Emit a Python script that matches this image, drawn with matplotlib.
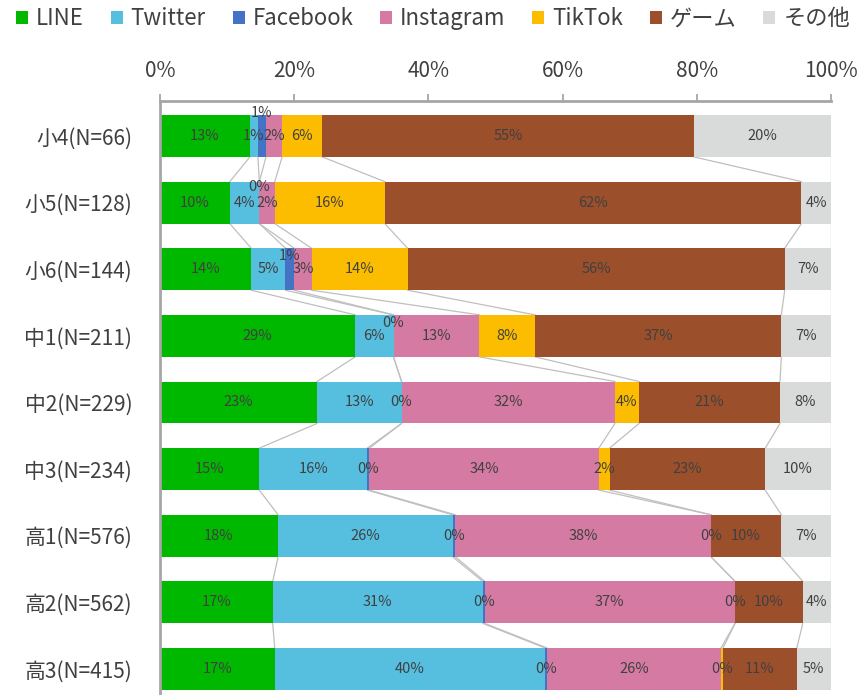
import matplotlib
matplotlib.use("Agg")
import matplotlib.pyplot as plt
from matplotlib.patches import Patch

plt.rcParams['font.family'] = ['Noto Sans CJK JP', 'DejaVu Sans']

# data (share of each answer per grade, %)
grades = ["小4(N=66)", "小5(N=128)", "小6(N=144)", "中1(N=211)", "中2(N=229)",
          "中3(N=234)", "高1(N=576)", "高2(N=562)", "高3(N=415)"]
series_names = ["LINE", "Twitter", "Facebook", "Instagram", "TikTok", "ゲーム", "その他"]

line_vals = [13.4, 10.4, 13.6, 29.1, 23.4, 14.8, 17.6, 16.8, 17.1]
twitter_vals = [1.2, 4.4, 5.1, 5.7, 12.6, 16.1, 26.0, 31.3, 40.3]
facebook_vals = [1.2, 0.0, 1.3, 0.0, 0.0, 0.3, 0.4, 0.3, 0.3]
instagram_vals = [2.4, 2.3, 2.6, 12.8, 31.8, 34.2, 38.1, 37.3, 25.9]
tiktok_vals = [6.0, 16.4, 14.3, 8.3, 3.6, 1.6, 0.0, 0.0, 0.3]
game_vals = [55.4, 62.1, 56.2, 36.7, 21.0, 23.2, 10.5, 10.1, 11.0]
other_vals = [20.4, 4.4, 6.9, 7.4, 7.6, 9.8, 7.4, 4.2, 5.1]

colors = ["#00B800", "#56BEDE", "#4472C4", "#D57BA3", "#FCBC00", "#9C4F2B", "#D9DADA"]

all_vals = [line_vals, twitter_vals, facebook_vals, instagram_vals,
            tiktok_vals, game_vals, other_vals]

fig = plt.figure(figsize=(8.61, 6.95), dpi=100)
ax = fig.add_axes([160 / 861, 0, 671 / 861, 1 - 101 / 695])

bar_h = 0.63
ypos = list(range(len(grades)))
text_col = "#404040"

# labels that Excel nudged upward to avoid overlap: (series, row) -> dy
label_shift = {(2, 0): -0.34, (2, 1): -0.24, (2, 2): -0.2, (2, 3): -0.2}

left = [0.0] * len(grades)
ends = []
for s, vals in enumerate(all_vals):
    ax.barh(ypos, vals, left=left, height=bar_h, color=colors[s], zorder=2)
    for i, v in enumerate(vals):
        cx = left[i] + v / 2
        dy = label_shift.get((s, i), 0)
        ax.text(cx, i + dy, f"{v:.0f}%", ha="center", va="center",
                fontsize=10.5, color=text_col, zorder=3)
    left = [l + v for l, v in zip(left, vals)]
    ends.append(left[:])

# series lines between bars
for col in ends:
    for i in range(len(grades) - 1):
        ax.plot([col[i], col[i + 1]], [i + bar_h / 2, i + 1 - bar_h / 2],
                color="#BFBFBF", lw=0.9, zorder=1)

ax.set_xlim(0, 100)
ax.set_ylim(8.39, -0.525)
ax.set_yticks(ypos)
ax.set_yticklabels(grades, fontsize=15, color=text_col)
ax.set_xticks([0, 20, 40, 60, 80, 100])
ax.set_xticklabels([f"{t}%" for t in [0, 20, 40, 60, 80, 100]], fontsize=15, color=text_col)
ax.xaxis.tick_top()
ax.tick_params(axis="x", length=5, width=1.3, color="#A6A6A6", pad=9)
ax.tick_params(axis="y", length=0, pad=20)

for side in ["right", "bottom"]:
    ax.spines[side].set_visible(False)
for side in ["top", "left"]:
    ax.spines[side].set_color("#A6A6A6")
    ax.spines[side].set_linewidth(2)

handles = [Patch(facecolor=c, edgecolor="none") for c in colors]
fig.legend(handles, series_names, loc="center", bbox_to_anchor=(0.503, 0.973),
           ncol=7, frameon=False, fontsize=16, handlelength=0.55, handleheight=0.55,
           handletextpad=0.35, columnspacing=1.2, labelcolor=text_col,
           borderaxespad=0, borderpad=0)

fig.savefig("out.png", dpi=100)
